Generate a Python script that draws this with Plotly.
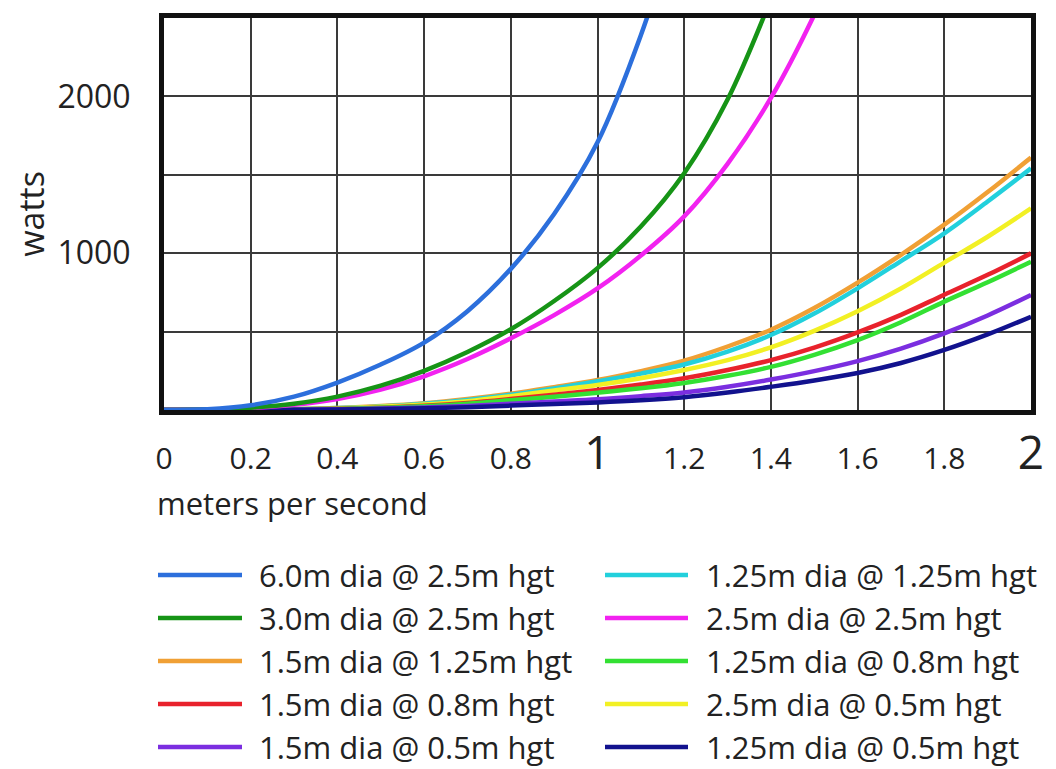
import plotly.graph_objects as go

# ---------------- data ----------------
speed = [0.0, 0.1, 0.2, 0.3, 0.4, 0.5, 0.6, 0.7, 0.8, 0.9, 1.0,
         1.1, 1.2, 1.3, 1.4, 1.5, 1.6, 1.7, 1.8, 1.9, 2.0]

names = [
    "6.0m dia @ 2.5m hgt",
    "3.0m dia @ 2.5m hgt",
    "1.5m dia @ 1.25m hgt",
    "1.5m dia @ 0.8m hgt",
    "1.5m dia @ 0.5m hgt",
    "1.25m dia @ 1.25m hgt",
    "2.5m dia @ 2.5m hgt",
    "1.25m dia @ 0.8m hgt",
    "2.5m dia @ 0.5m hgt",
    "1.25m dia @ 0.5m hgt",
]

watts_6_0_at_2_5 = [0, 5, 30, 85, 175, 290, 430, 630, 900, 1250, 1707, 2390, 3250]
watts_3_0_at_2_5 = [0, 3, 15, 40, 85, 155, 250, 370, 515, 695, 905, 1170, 1510, 1980, 2620, 3350]
watts_1_5_at_1_25 = [0, 0.3, 2, 5, 13, 25, 43, 70, 104, 146, 191, 248, 315, 405, 512, 650, 812, 990, 1182, 1390, 1610]
watts_1_5_at_0_8 = [0, 0.1, 1, 3, 8, 15, 27, 45, 70, 98, 128, 162, 202, 255, 318, 398, 495, 607, 735, 862, 999]
watts_1_5_at_0_5 = [0, 0.1, 1, 2, 5, 9, 16, 26, 40, 54, 68, 88, 112, 148, 194, 248, 312, 392, 489, 603, 733]
watts_1_25_at_1_25 = [0, 0.3, 2, 5, 12, 23, 40, 64, 98, 138, 183, 232, 290, 372, 478, 615, 776, 950, 1127, 1330, 1541]
watts_2_5_at_2_5 = [0, 2, 12, 33, 70, 130, 215, 325, 457, 605, 775, 985, 1235, 1570, 1990, 2520, 3150]
watts_1_25_at_0_8 = [0, 0.1, 1, 3, 7, 14, 24, 40, 62, 85, 110, 138, 172, 218, 275, 352, 446, 560, 691, 815, 946]
watts_2_5_at_0_5 = [0, 0.2, 1, 4, 10, 20, 35, 56, 88, 125, 160, 203, 255, 318, 400, 505, 630, 775, 940, 1105, 1286]
watts_1_25_at_0_5 = [0, 0, 0.5, 1.5, 3, 6, 11, 18, 28, 38, 48, 62, 82, 112, 148, 188, 236, 300, 383, 482, 595]

series_values = [
    watts_6_0_at_2_5, watts_3_0_at_2_5, watts_1_5_at_1_25, watts_1_5_at_0_8,
    watts_1_5_at_0_5, watts_1_25_at_1_25, watts_2_5_at_2_5, watts_1_25_at_0_8,
    watts_2_5_at_0_5, watts_1_25_at_0_5,
]

colors = ["#2c6fdc", "#169416", "#f0a035", "#e8222c", "#7b2ee0",
          "#22d0dc", "#f222f0", "#33e033", "#f2f024", "#12128e"]

x_tickvals = [0, 0.2, 0.4, 0.6, 0.8, 1.0, 1.2, 1.4, 1.6, 1.8, 2.0]
x_ticktext = ["0", "0.2", "0.4", "0.6", "0.8", "<span style='font-size:46px'>1</span>",
              "1.2", "1.4", "1.6", "1.8", "<span style='font-size:46px'>2</span>"]
y_tickvals = [500, 1000, 1500, 2000]
y_ticktext = ["", "1000", "", "2000"]

# ---------------- layout constants ----------------
PAGE_OFF = 8                      # default body margin of the html page
W, H = 1056 - PAGE_OFF, 769 - PAGE_OFF
ML, MT = 164 - PAGE_OFF, 18 - PAGE_OFF
MR, MB = 1056 - 1031, 769 - 410
FONT = "Open Sans"
TXT = "#222222"


def px2x(px):
    return (px - PAGE_OFF - ML) / (W - ML - MR)


def py2y(py):
    return (H - MB - (py - PAGE_OFF)) / (H - MT - MB)


fig = go.Figure()

draw_order = [2, 5, 8, 3, 7, 4, 9, 6, 1, 0]
for i in draw_order:
    vals = series_values[i]
    fig.add_trace(go.Scatter(
        x=speed[:len(vals)], y=vals, mode="lines", name=names[i],
        line=dict(color=colors[i], width=4.5, shape="spline", smoothing=1.0),
        showlegend=False, hoverinfo="skip",
    ))

# manual two-column legend (long line samples like the reference)
rows_py = [575, 618, 661, 704, 747]
cols = [(158, 242, 257), (605, 688, 704)]
shapes = []
annotations = []
for k, name in enumerate(names):
    c = k // 5
    r = k % 5
    x0, x1, xt = cols[c]
    yy = py2y(rows_py[r])
    shapes.append(dict(type="line", xref="paper", yref="paper",
                       x0=px2x(x0), x1=px2x(x1), y0=yy, y1=yy,
                       line=dict(color=colors[k], width=4.5)))
    annotations.append(dict(xref="paper", yref="paper", x=px2x(xt), y=yy,
                            text=name, showarrow=False, xanchor="left", yanchor="middle",
                            font=dict(family=FONT, size=31, color=TXT)))

annotations.append(dict(xref="paper", yref="paper", x=px2x(155), y=py2y(503),
                        text="meters per second", showarrow=False,
                        xanchor="left", yanchor="middle",
                        font=dict(family=FONT, size=31, color=TXT)))

fig.update_layout(
    width=W, height=H,
    margin=dict(l=ML, r=MR, t=MT, b=MB),
    paper_bgcolor="white", plot_bgcolor="white",
    font=dict(family=FONT, color=TXT),
    shapes=shapes, annotations=annotations,
    showlegend=False,
)
fig.update_xaxes(
    range=[0, 2], tickvals=x_tickvals, ticktext=x_ticktext,
    tickfont=dict(family=FONT, size=30, color=TXT),
    showgrid=True, gridcolor="#3a3a3a", gridwidth=2,
    showline=True, linecolor="#111111", linewidth=5, mirror=True,
    zeroline=False, ticks="", ticklabelstandoff=18, automargin=False,
)
fig.update_yaxes(
    range=[0, 2500], tickvals=y_tickvals, ticktext=y_ticktext,
    tickfont=dict(family=FONT, size=32, color=TXT),
    showgrid=True, gridcolor="#3a3a3a", gridwidth=2,
    showline=True, linecolor="#111111", linewidth=5, mirror=True,
    zeroline=False, ticks="", ticklabelstandoff=22, automargin=False,
    title=dict(text="watts", font=dict(family=FONT, size=34, color=TXT), standoff=26),
)

fig.write_html("out.html")
